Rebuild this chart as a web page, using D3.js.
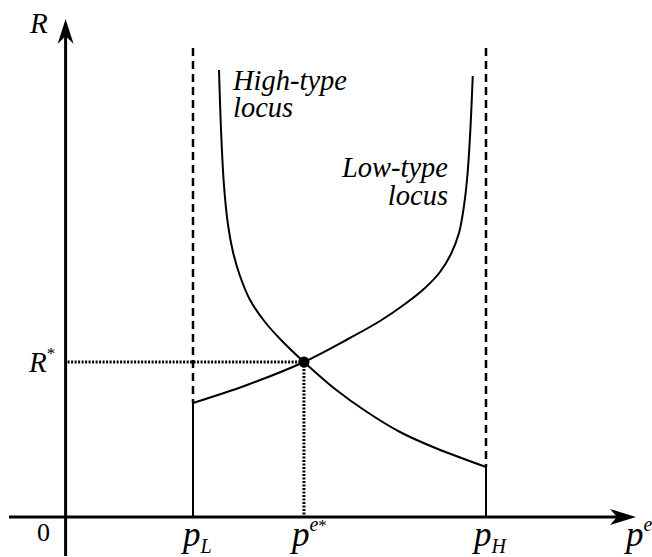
<!DOCTYPE html>
<html>
<head>
<meta charset="utf-8">
<script src="https://cdn.jsdelivr.net/npm/d3@7"></script>
<style>
body { margin: 0; background: #fff; }
</style>
</head>
<body>
<script>
// loci (p^e on x, R on y)
var highP = [1.204, 1.220, 1.243, 1.275, 1.314, 1.369, 1.448, 1.565, 1.699, 1.871, 2.115, 2.366, 2.625, 2.884, 3.30];
var highR = [4.47, 3.87, 3.32, 2.92, 2.65, 2.41, 2.17, 1.95, 1.76, 1.55, 1.28, 1.05, 0.85, 0.70, 0.50];
var lowP = [1.0, 1.424, 1.871, 2.217, 2.468, 2.664, 2.821, 2.939, 3.025, 3.088, 3.127, 3.155, 3.178, 3.196];
var lowR = [1.14, 1.32, 1.55, 1.78, 1.96, 2.13, 2.29, 2.45, 2.63, 2.84, 3.11, 3.43, 3.89, 4.41];

var pL = 1.0, pH = 3.3, peStar = 1.871, rStar = 1.55;
var asymTop = 4.69;   // where the dashed asymptotes start

var width = 652, height = 557;
var serif = "'Liberation Serif', 'Times New Roman', Times, serif";

var svg = d3.select("body").append("svg")
    .attr("width", width)
    .attr("height", height);

var x = d3.scaleLinear().domain([0, pH]).range([65.6, 486]);
var y = d3.scaleLinear().domain([0, 5]).range([517, 17]);

var highPts = highP.map((p, i) => [p, highR[i]]);
var lowPts = lowP.map((p, i) => [p, lowR[i]]);

var line = d3.line()
    .x(d => x(d[0]))
    .y(d => y(d[1]))
    .curve(d3.curveCatmullRom.alpha(0.5));

// axes
svg.append("line")
    .attr("x1", x(0)).attr("y1", 30)
    .attr("x2", x(0)).attr("y2", 556)
    .attr("stroke", "#000").attr("stroke-width", 3);
svg.append("line")
    .attr("x1", 9).attr("y1", y(0))
    .attr("x2", 625).attr("y2", y(0))
    .attr("stroke", "#000").attr("stroke-width", 3);

// arrow heads
var ax = x(0), ay = y(0);
svg.append("path")
    .attr("d", "M" + ax + ",19 L" + (ax + 8) + ",44 L" + ax + ",36 L" + (ax - 8) + ",44 Z")
    .attr("fill", "#000");
svg.append("path")
    .attr("d", "M636," + ay + " L610," + (ay - 8) + " L617," + ay + " L610," + (ay + 8) + " Z")
    .attr("fill", "#000");

// dashed asymptotes, solid below the loci
[[pL, lowR[0]], [pH, highR[highR.length - 1]]].forEach(function(a) {
    svg.append("line")
        .attr("x1", x(a[0])).attr("y1", y(asymTop))
        .attr("x2", x(a[0])).attr("y2", y(a[1]))
        .attr("stroke", "#000").attr("stroke-width", 2.5)
        .attr("stroke-dasharray", "8,5");
    svg.append("line")
        .attr("x1", x(a[0])).attr("y1", y(a[1]))
        .attr("x2", x(a[0])).attr("y2", y(0))
        .attr("stroke", "#000").attr("stroke-width", 2);
});

// dotted guides to the equilibrium
svg.append("line")
    .attr("x1", x(0) + 2).attr("y1", y(rStar))
    .attr("x2", x(peStar)).attr("y2", y(rStar))
    .attr("stroke", "#000").attr("stroke-width", 3)
    .attr("stroke-dasharray", "2,1.5");
svg.append("line")
    .attr("x1", x(peStar)).attr("y1", y(rStar))
    .attr("x2", x(peStar)).attr("y2", y(0) - 2)
    .attr("stroke", "#000").attr("stroke-width", 3)
    .attr("stroke-dasharray", "2,1.5");

// the two loci
svg.append("path").datum(highPts)
    .attr("d", line)
    .attr("fill", "none").attr("stroke", "#000").attr("stroke-width", 2);
svg.append("path").datum(lowPts)
    .attr("d", line)
    .attr("fill", "none").attr("stroke", "#000").attr("stroke-width", 2);

svg.append("circle")
    .attr("cx", x(peStar)).attr("cy", y(rStar))
    .attr("r", 5.5).attr("fill", "#000");

// labels
function txt(px, py, size) {
    return svg.append("text")
        .attr("x", px).attr("y", py)
        .attr("font-family", serif)
        .attr("font-size", size)
        .attr("fill", "#000");
}

txt(30, 33, 29).attr("font-style", "italic").text("R");

var rs = txt(29, 372, 29);
rs.append("tspan").attr("font-style", "italic").text("R");
rs.append("tspan").attr("dy", -13).attr("font-size", 17).text("*");

txt(37, 541, 26).text("0");

function pLabel(px, sub, sup) {
    var t = txt(px, 546, 35);
    t.append("tspan").attr("font-style", "italic").text("p");
    if (sub) {
        t.append("tspan").attr("dy", 7).attr("font-size", 20)
            .attr("font-style", "italic").text(sub);
    }
    if (sup) {
        var s = t.append("tspan").attr("dy", -15).attr("font-size", 20);
        s.append("tspan").attr("font-style", "italic").text(sup[0]);
        if (sup[1]) s.append("tspan").attr("font-size", 17).text(sup[1]);
    }
}
pLabel(x(pL) - 10, "L");
pLabel(x(peStar) - 12, null, ["e", "*"]);
pLabel(x(pH) - 12, "H");
pLabel(626, null, ["e"]);

var hi = txt(233, 90, 28.5).attr("font-style", "italic");
hi.append("tspan").attr("x", 233).attr("y", 90).text("High-type");
hi.append("tspan").attr("x", 233).attr("y", 117).text("locus");

var lo = txt(448, 177, 28.5).attr("font-style", "italic").attr("text-anchor", "end");
lo.append("tspan").attr("x", 448).attr("y", 177).text("Low-type");
lo.append("tspan").attr("x", 448).attr("y", 205).text("locus");
</script>
</body>
</html>
